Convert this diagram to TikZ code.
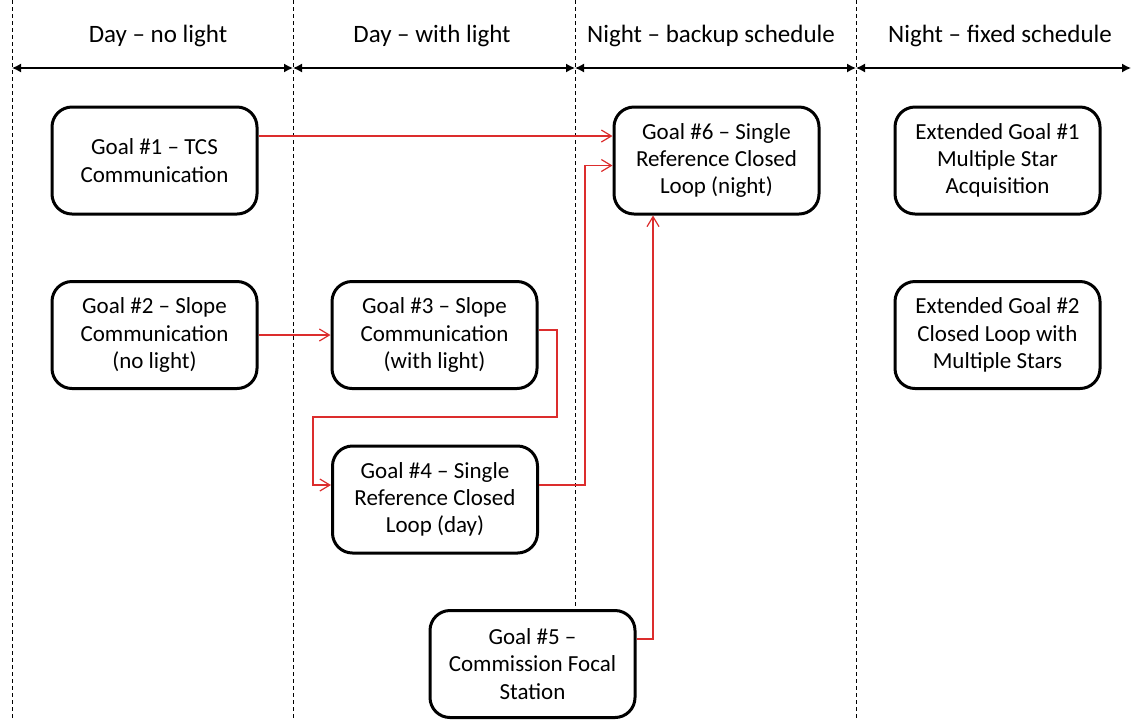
\documentclass[tikz,border=0pt]{standalone}
\usepackage{fontspec}
\setmainfont{Carlito}
\usetikzlibrary{arrows.meta}
\definecolor{redline}{RGB}{220,45,45}
\begin{document}
\begin{tikzpicture}[x=0.5pt,y=-0.5pt,
 goal/.style={draw,fill=white,line width=1.5pt,rounded corners=10pt,minimum width=102.5pt,minimum height=53.5pt,align=center,font=\fontsize{11.5}{13.6}\selectfont,inner sep=0pt},
 head/.style={font=\fontsize{12.5}{15}\selectfont},
 sep/.style={line width=0.5pt,dash pattern=on 2pt off 1.5pt},
 span/.style={{Latex[length=4.5pt,width=4.5pt]}-{Latex[length=4.5pt,width=4.5pt]},line width=0.7pt},
 link/.style={redline,line width=0.6pt,-{Straight Barb[length=5pt,width=6pt]}}]
\useasboundingbox (0,0) rectangle (1133,719);
% column separators
\foreach \x [count=\i] in {12,293,575,856} {
  \coordinate (t\i) at (\x,0);
  \coordinate (b\i) at (\x,719);
  \coordinate (m\i) at (\x,68);
  \draw[sep] (t\i) -- (b\i);
}
\coordinate (m5) at (1131,68);
\draw[span] (m1) -- (m2);
\draw[span] (m2) -- (m3);
\draw[span] (m3) -- (m4);
\draw[span] (m4) -- (m5);
% headers
\node[head] (h1) at (158,36) {Day – no light};
\node[head] (h2) at (432,36) {Day – with light};
\node[head] (h3) at (711,36) {Night – backup schedule};
\node[head] (h4) at (1000,36) {Night – fixed schedule};
% goals
\node[goal] (g1) at (154.5,160.5) {Goal \#1 – TCS\\Communication};
\node[goal] (g2) at (154.5,335) {Goal \#2 – Slope\\Communication\\(no light)};
\node[goal] (g3) at (434.5,335) {Goal \#3 – Slope\\Communication\\(with light)};
\node[goal] (g4) at (435,499.5) {Goal \#4 – Single\\Reference Closed\\Loop (day)};
\node[goal] (g5) at (532.5,664) {Goal \#5 –\\Commission Focal\\Station};
\node[goal] (g6) at (716.5,160.5) {Goal \#6 – Single\\Reference Closed\\Loop (night)};
\node[goal] (e1) at (997.5,160.5) {Extended Goal \#1\\Multiple Star\\Acquisition};
\node[goal] (e2) at (997.5,335) {Extended Goal \#2\\Closed Loop with\\Multiple Stars};
% connectors
\coordinate (a1) at (557,417);
\coordinate (a2) at (313,417);
\coordinate (a3) at (585,485);
\coordinate (a4) at (653,639);
\draw[link] ([yshift=12.25pt]g1.east) -- ([yshift=12.25pt]g1.east -| g6.west);
\draw[link] (g2.east) -- (g3.west);
\draw[link] ([yshift=2.5pt]g3.east) -| (a1) -- (a2) |- ([yshift=7.25pt]g4.west);
\draw[link] ([yshift=7.25pt]g4.east) -- (a3) |- ([yshift=-2.5pt]g6.west);
\draw[link] ([yshift=12.5pt]g5.east) -- (a4) -- (a4 |- g6.south);
\end{tikzpicture}
\end{document}
